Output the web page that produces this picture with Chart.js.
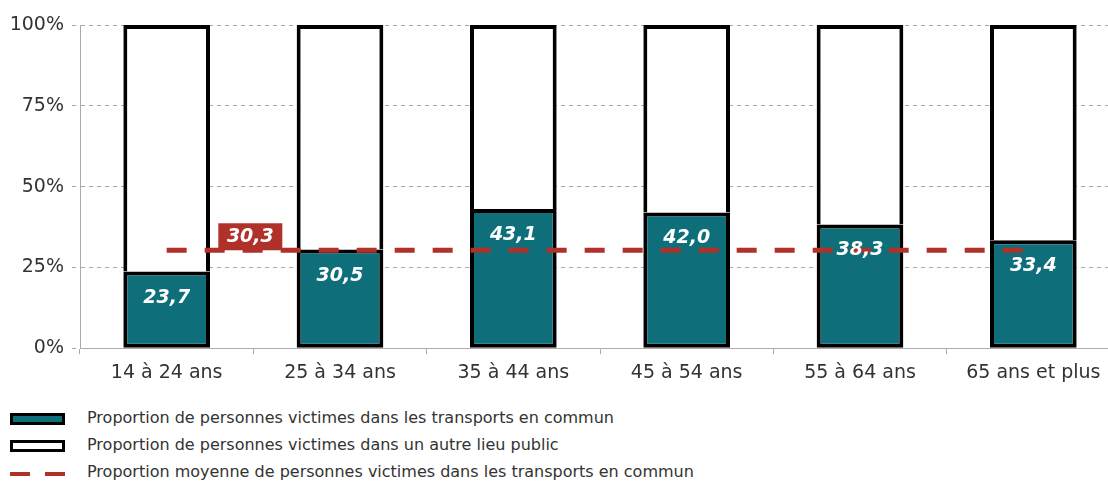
<!DOCTYPE html>
<html lang="fr">
<head>
<meta charset="utf-8">
<script src="https://cdn.jsdelivr.net/npm/chart.js@4"></script>
<style>
  html, body { margin: 0; padding: 0; background: #fff; overflow: hidden; }
  #wrap { position: absolute; left: 0; top: 0; width: 1120px; height: 391px; }
  .legend { position: absolute; left: 0; top: 404px; font-family: "DejaVu Sans", sans-serif; font-size: 16px; color: #333; }
  .item { position: relative; height: 27px; }
  .item span.txt { position: absolute; left: 87px; top: 4px; white-space: nowrap; }
  .sym { position: absolute; left: 10px; top: 9px; width: 49px; height: 6px; border: 3px solid #000; }
  .dash { position: absolute; top: 14px; width: 20px; height: 4px; background: #b0302a; }
</style>
</head>
<body>
<div id="wrap"><canvas id="chart"></canvas></div>
<div class="legend">
  <div class="item"><div class="sym" style="background:#0e6f7b"></div><span class="txt">Proportion de personnes victimes dans les transports en commun</span></div>
  <div class="item"><div class="sym" style="background:#fff"></div><span class="txt">Proportion de personnes victimes dans un autre lieu public</span></div>
  <div class="item"><div class="dash" style="left:10px"></div><div class="dash" style="left:45px"></div><span class="txt">Proportion moyenne de personnes victimes dans les transports en commun</span></div>
</div>
<script>
const ageGroups = ['14 à 24 ans', '25 à 34 ans', '35 à 44 ans', '45 à 54 ans', '55 à 64 ans', '65 ans et plus'];
const transportShare = [23.7, 30.5, 43.1, 42.0, 38.3, 33.4];
const otherShare = [76.3, 69.5, 56.9, 58.0, 61.7, 66.6];
const averageShare = [30.3, 30.3, 30.3, 30.3, 30.3, 30.3];
const yTicks = [0, 25, 50, 75, 100];

const TEAL = '#0e6f7b';
const RED = '#b0302a';
const FONT = '"DejaVu Sans", sans-serif';

const fmt = v => v.toFixed(1).replace('.', ',');

// value labels inside teal bars + boxed average label
const labelPlugin = {
  id: 'labels',
  afterDatasetsDraw(chart) {
    const ctx = chart.ctx;
    const x = chart.scales.x, y = chart.scales.y;
    ctx.save();
    ctx.font = 'italic bold 19px ' + FONT;
    ctx.fillStyle = '#fff';
    ctx.textAlign = 'center';
    ctx.textBaseline = 'middle';
    chart.getDatasetMeta(0).data.forEach((bar, i) => {
      ctx.fillText(fmt(transportShare[i]), bar.x, bar.y + 26);
    });
    // average label
    const cx = (x.getPixelForValue(0) + x.getPixelForValue(1)) / 2 - 3;
    const cy = y.getPixelForValue(averageShare[0]);
    ctx.fillStyle = RED;
    ctx.fillRect(cx - 32, cy - 27, 64, 27);
    ctx.fillStyle = '#fff';
    ctx.fillText(fmt(averageShare[0]), cx, cy - 13);
    ctx.restore();
  }
};

new Chart(document.getElementById('chart'), {
  data: {
    labels: ageGroups,
    datasets: [
      {
        type: 'bar', label: 'Proportion de personnes victimes dans les transports en commun',
        data: transportShare, backgroundColor: TEAL, borderColor: '#000',
        borderWidth: 4, borderSkipped: false, stack: 's', order: 2,
        barPercentage: 1, categoryPercentage: 0.5
      },
      {
        type: 'bar', label: 'Proportion de personnes victimes dans un autre lieu public',
        data: otherShare, backgroundColor: '#fff', borderColor: '#000',
        borderWidth: { top: 4, left: 4, right: 4, bottom: 0 }, borderSkipped: false, stack: 's', order: 2,
        barPercentage: 1, categoryPercentage: 0.5
      },
      {
        type: 'line', label: 'Proportion moyenne de personnes victimes dans les transports en commun',
        data: averageShare, borderColor: RED, borderWidth: 5, borderDash: [20, 18],
        pointRadius: 0, stack: 'avg', order: 0, fill: false
      }
    ]
  },
  options: {
    responsive: true,
    maintainAspectRatio: false,
    animation: false,
    layout: { padding: { top: 25, left: 0, right: 0, bottom: 0 } },
    plugins: { legend: { display: false }, tooltip: { enabled: false } },
    scales: {
      x: {
        stacked: true,
        grid: { display: true, drawOnChartArea: false, offset: true, tickLength: 6, color: '#aaa' },
        border: { color: '#aaa', width: 1 },
        ticks: { color: '#333', font: { family: FONT, size: 19 }, padding: 7, maxRotation: 0, autoSkip: false }
      },
      y: {
        stacked: true, min: 0, max: 100,
        afterFit(scale) { scale.width = 80; },
        afterBuildTicks(scale) { scale.ticks = yTicks.map(v => ({ value: v })); },
        grid: { color: '#aaa', tickLength: 8, tickBorderDash: [4, 4] },
        border: { color: '#aaa', width: 1, dash: [4, 4] },
        ticks: { color: '#333', font: { family: FONT, size: 19 }, padding: 8, callback: v => v + '%' }
      }
    }
  },
  plugins: [labelPlugin]
});
</script>
</body>
</html>
